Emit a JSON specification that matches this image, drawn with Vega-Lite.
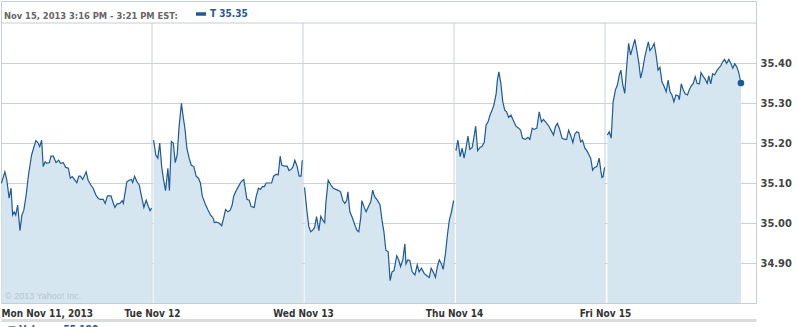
{
  "$schema": "https://vega.github.io/schema/vega-lite/v6.json",
  "width": 755,
  "height": 302,
  "autosize": {"type": "none"},
  "padding": {"left": 1, "top": 1, "right": 41, "bottom": 24},
  "background": "white",
  "config": {"view": {"stroke": "#c5ced7", "strokeWidth": 1}, "font": "DejaVu Sans Condensed"},
  "title": {"text": "Nov 15, 2013 3:16 PM - 3:21 PM EST:", "anchor": "start", "frame": "group", "orient": "top", "offset": -24, "baseline": "middle", "dx": 3, "font": "DejaVu Sans Condensed", "fontSize": 9.3, "fontWeight": "bold", "color": "#666666"},
  "datasets": {
    "price": [
      {"d":1,"t":1,"p":35.099},{"d":1,"t":10,"p":35.128},{"d":1,"t":15,"p":35.107},{"d":1,"t":21,"p":35.062},{"d":1,"t":26,"p":35.087},{"d":1,"t":30,"p":35.02},{"d":1,"t":34,"p":35.028},{"d":1,"t":38,"p":35.02},{"d":1,"t":43,"p":35.045},{"d":1,"t":49,"p":34.981},{"d":1,"t":54,"p":35.02},{"d":1,"t":59,"p":35.032},{"d":1,"t":65,"p":35.07},{"d":1,"t":71,"p":35.12},{"d":1,"t":79,"p":35.17},{"d":1,"t":90,"p":35.206},{"d":1,"t":95,"p":35.201},{"d":1,"t":100,"p":35.191},{"d":1,"t":105,"p":35.207},{"d":1,"t":109,"p":35.141},{"d":1,"t":114,"p":35.153},{"d":1,"t":118,"p":35.149},{"d":1,"t":125,"p":35.151},{"d":1,"t":129,"p":35.167},{"d":1,"t":135,"p":35.167},{"d":1,"t":142,"p":35.151},{"d":1,"t":149,"p":35.157},{"d":1,"t":154,"p":35.149},{"d":1,"t":161,"p":35.151},{"d":1,"t":167,"p":35.139},{"d":1,"t":174,"p":35.137},{"d":1,"t":179,"p":35.112},{"d":1,"t":184,"p":35.116},{"d":1,"t":196,"p":35.101},{"d":1,"t":201,"p":35.117},{"d":1,"t":205,"p":35.117},{"d":1,"t":211,"p":35.109},{"d":1,"t":220,"p":35.128},{"d":1,"t":225,"p":35.107},{"d":1,"t":232,"p":35.095},{"d":1,"t":238,"p":35.087},{"d":1,"t":245,"p":35.07},{"d":1,"t":251,"p":35.062},{"d":1,"t":256,"p":35.059},{"d":1,"t":264,"p":35.059},{"d":1,"t":269,"p":35.049},{"d":1,"t":275,"p":35.068},{"d":1,"t":284,"p":35.068},{"d":1,"t":289,"p":35.053},{"d":1,"t":294,"p":35.039},{"d":1,"t":300,"p":35.048},{"d":1,"t":307,"p":35.049},{"d":1,"t":313,"p":35.056},{"d":1,"t":316,"p":35.049},{"d":1,"t":325,"p":35.103},{"d":1,"t":331,"p":35.107},{"d":1,"t":337,"p":35.109},{"d":1,"t":340,"p":35.101},{"d":1,"t":345,"p":35.117},{"d":1,"t":351,"p":35.103},{"d":1,"t":357,"p":35.095},{"d":1,"t":363,"p":35.066},{"d":1,"t":369,"p":35.039},{"d":1,"t":375,"p":35.057},{"d":1,"t":380,"p":35.043},{"d":1,"t":385,"p":35.031},{"d":1,"t":389,"p":35.037},
      {"d":2,"t":394,"p":35.207},{"d":2,"t":400,"p":35.17},{"d":2,"t":405,"p":35.162},{"d":2,"t":410,"p":35.2},{"d":2,"t":415,"p":35.141},{"d":2,"t":420,"p":35.107},{"d":2,"t":425,"p":35.081},{"d":2,"t":431,"p":35.137},{"d":2,"t":435,"p":35.081},{"d":2,"t":440,"p":35.204},{"d":2,"t":445,"p":35.2},{"d":2,"t":450,"p":35.151},{"d":2,"t":455,"p":35.17},{"d":2,"t":460,"p":35.241},{"d":2,"t":466,"p":35.299},{"d":2,"t":471,"p":35.262},{"d":2,"t":475,"p":35.237},{"d":2,"t":480,"p":35.187},{"d":2,"t":486,"p":35.162},{"d":2,"t":491,"p":35.145},{"d":2,"t":498,"p":35.141},{"d":2,"t":504,"p":35.117},{"d":2,"t":510,"p":35.112},{"d":2,"t":515,"p":35.1},{"d":2,"t":520,"p":35.067},{"d":2,"t":527,"p":35.049},{"d":2,"t":534,"p":35.034},{"d":2,"t":541,"p":35.02},{"d":2,"t":548,"p":35.012},{"d":2,"t":551,"p":35.001},{"d":2,"t":556,"p":35.002},{"d":2,"t":563,"p":35.0},{"d":2,"t":570,"p":34.993},{"d":2,"t":575,"p":35.012},{"d":2,"t":580,"p":35.034},{"d":2,"t":586,"p":35.028},{"d":2,"t":592,"p":35.032},{"d":2,"t":597,"p":35.045},{"d":2,"t":601,"p":35.067},{"d":2,"t":606,"p":35.078},{"d":2,"t":613,"p":35.091},{"d":2,"t":620,"p":35.103},{"d":2,"t":627,"p":35.109},{"d":2,"t":630,"p":35.091},{"d":2,"t":635,"p":35.059},{"d":2,"t":641,"p":35.057},{"d":2,"t":646,"p":35.041},{"d":2,"t":654,"p":35.039},{"d":2,"t":659,"p":35.066},{"d":2,"t":665,"p":35.087},{"d":2,"t":670,"p":35.084},{"d":2,"t":675,"p":35.091},{"d":2,"t":680,"p":35.091},{"d":2,"t":685,"p":35.1},{"d":2,"t":692,"p":35.1},{"d":2,"t":699,"p":35.1},{"d":2,"t":704,"p":35.117},{"d":2,"t":711,"p":35.122},{"d":2,"t":716,"p":35.12},{"d":2,"t":721,"p":35.167},{"d":2,"t":725,"p":35.145},{"d":2,"t":732,"p":35.142},{"d":2,"t":739,"p":35.142},{"d":2,"t":744,"p":35.131},{"d":2,"t":749,"p":35.134},{"d":2,"t":754,"p":35.14},{"d":2,"t":759,"p":35.157},{"d":2,"t":765,"p":35.141},{"d":2,"t":770,"p":35.117},{"d":2,"t":775,"p":35.117},{"d":2,"t":778,"p":35.157},
      {"d":3,"t":784,"p":35.089},{"d":3,"t":790,"p":35.032},{"d":3,"t":795,"p":34.991},{"d":3,"t":800,"p":34.978},{"d":3,"t":805,"p":34.982},{"d":3,"t":810,"p":34.989},{"d":3,"t":815,"p":35.016},{"d":3,"t":821,"p":34.981},{"d":3,"t":826,"p":35.017},{"d":3,"t":831,"p":35.007},{"d":3,"t":836,"p":35.001},{"d":3,"t":839,"p":35.049},{"d":3,"t":845,"p":35.107},{"d":3,"t":852,"p":35.095},{"d":3,"t":858,"p":35.087},{"d":3,"t":865,"p":35.084},{"d":3,"t":872,"p":35.081},{"d":3,"t":877,"p":35.078},{"d":3,"t":883,"p":35.056},{"d":3,"t":888,"p":35.049},{"d":3,"t":893,"p":35.057},{"d":3,"t":896,"p":35.078},{"d":3,"t":901,"p":35.028},{"d":3,"t":908,"p":35.012},{"d":3,"t":914,"p":34.995},{"d":3,"t":919,"p":34.982},{"d":3,"t":924,"p":34.978},{"d":3,"t":929,"p":35.012},{"d":3,"t":932,"p":35.056},{"d":3,"t":938,"p":35.039},{"d":3,"t":943,"p":35.028},{"d":3,"t":948,"p":35.039},{"d":3,"t":955,"p":35.053},{"d":3,"t":960,"p":35.082},{"d":3,"t":965,"p":35.066},{"d":3,"t":972,"p":35.057},{"d":3,"t":979,"p":35.045},{"d":3,"t":984,"p":35.007},{"d":3,"t":989,"p":34.978},{"d":3,"t":994,"p":34.932},{"d":3,"t":1000,"p":34.928},{"d":3,"t":1005,"p":34.856},{"d":3,"t":1010,"p":34.878},{"d":3,"t":1015,"p":34.881},{"d":3,"t":1022,"p":34.918},{"d":3,"t":1027,"p":34.908},{"d":3,"t":1032,"p":34.891},{"d":3,"t":1038,"p":34.909},{"d":3,"t":1043,"p":34.948},{"d":3,"t":1046,"p":34.898},{"d":3,"t":1051,"p":34.908},{"d":3,"t":1056,"p":34.906},{"d":3,"t":1062,"p":34.878},{"d":3,"t":1069,"p":34.87},{"d":3,"t":1075,"p":34.895},{"d":3,"t":1080,"p":34.878},{"d":3,"t":1086,"p":34.887},{"d":3,"t":1093,"p":34.874},{"d":3,"t":1100,"p":34.868},{"d":3,"t":1106,"p":34.864},{"d":3,"t":1111,"p":34.887},{"d":3,"t":1117,"p":34.876},{"d":3,"t":1122,"p":34.864},{"d":3,"t":1127,"p":34.891},{"d":3,"t":1132,"p":34.908},{"d":3,"t":1137,"p":34.899},{"d":3,"t":1142,"p":34.884},{"d":3,"t":1148,"p":34.924},{"d":3,"t":1153,"p":34.97},{"d":3,"t":1158,"p":35.007},{"d":3,"t":1163,"p":35.026},{"d":3,"t":1166,"p":35.041},{"d":3,"t":1169,"p":35.056},
      {"d":4,"t":1175,"p":35.181},{"d":4,"t":1180,"p":35.207},{"d":4,"t":1186,"p":35.166},{"d":4,"t":1191,"p":35.187},{"d":4,"t":1196,"p":35.162},{"d":4,"t":1201,"p":35.187},{"d":4,"t":1206,"p":35.217},{"d":4,"t":1211,"p":35.184},{"d":4,"t":1217,"p":35.189},{"d":4,"t":1222,"p":35.217},{"d":4,"t":1226,"p":35.242},{"d":4,"t":1231,"p":35.181},{"d":4,"t":1237,"p":35.189},{"d":4,"t":1242,"p":35.191},{"d":4,"t":1248,"p":35.201},{"d":4,"t":1253,"p":35.245},{"d":4,"t":1258,"p":35.253},{"d":4,"t":1263,"p":35.27},{"d":4,"t":1268,"p":35.281},{"d":4,"t":1273,"p":35.295},{"d":4,"t":1279,"p":35.324},{"d":4,"t":1282,"p":35.357},{"d":4,"t":1286,"p":35.378},{"d":4,"t":1291,"p":35.349},{"d":4,"t":1296,"p":35.303},{"d":4,"t":1301,"p":35.282},{"d":4,"t":1306,"p":35.278},{"d":4,"t":1311,"p":35.264},{"d":4,"t":1317,"p":35.27},{"d":4,"t":1323,"p":35.257},{"d":4,"t":1330,"p":35.242},{"d":4,"t":1337,"p":35.237},{"d":4,"t":1342,"p":35.232},{"d":4,"t":1347,"p":35.212},{"d":4,"t":1354,"p":35.209},{"d":4,"t":1361,"p":35.214},{"d":4,"t":1366,"p":35.209},{"d":4,"t":1372,"p":35.237},{"d":4,"t":1377,"p":35.234},{"d":4,"t":1384,"p":35.237},{"d":4,"t":1390,"p":35.278},{"d":4,"t":1396,"p":35.253},{"d":4,"t":1401,"p":35.259},{"d":4,"t":1408,"p":35.251},{"d":4,"t":1415,"p":35.242},{"d":4,"t":1421,"p":35.231},{"d":4,"t":1427,"p":35.22},{"d":4,"t":1432,"p":35.241},{"d":4,"t":1437,"p":35.249},{"d":4,"t":1442,"p":35.237},{"d":4,"t":1449,"p":35.212},{"d":4,"t":1456,"p":35.209},{"d":4,"t":1461,"p":35.209},{"d":4,"t":1466,"p":35.232},{"d":4,"t":1471,"p":35.22},{"d":4,"t":1477,"p":35.201},{"d":4,"t":1482,"p":35.222},{"d":4,"t":1487,"p":35.228},{"d":4,"t":1492,"p":35.226},{"d":4,"t":1497,"p":35.203},{"d":4,"t":1502,"p":35.207},{"d":4,"t":1508,"p":35.187},{"d":4,"t":1513,"p":35.181},{"d":4,"t":1518,"p":35.172},{"d":4,"t":1523,"p":35.162},{"d":4,"t":1528,"p":35.132},{"d":4,"t":1533,"p":35.139},{"d":4,"t":1539,"p":35.141},{"d":4,"t":1545,"p":35.162},{"d":4,"t":1549,"p":35.132},{"d":4,"t":1552,"p":35.114},{"d":4,"t":1555,"p":35.116},{"d":4,"t":1559,"p":35.139},
      {"d":5,"t":1566,"p":35.22},{"d":5,"t":1571,"p":35.228},{"d":5,"t":1576,"p":35.212},{"d":5,"t":1581,"p":35.303},{"d":5,"t":1587,"p":35.333},{"d":5,"t":1592,"p":35.345},{"d":5,"t":1597,"p":35.37},{"d":5,"t":1601,"p":35.382},{"d":5,"t":1606,"p":35.345},{"d":5,"t":1611,"p":35.324},{"d":5,"t":1616,"p":35.391},{"d":5,"t":1621,"p":35.449},{"d":5,"t":1626,"p":35.42},{"d":5,"t":1632,"p":35.441},{"d":5,"t":1637,"p":35.459},{"d":5,"t":1642,"p":35.432},{"d":5,"t":1647,"p":35.403},{"d":5,"t":1652,"p":35.362},{"d":5,"t":1657,"p":35.382},{"d":5,"t":1663,"p":35.416},{"d":5,"t":1668,"p":35.437},{"d":5,"t":1672,"p":35.453},{"d":5,"t":1676,"p":35.431},{"d":5,"t":1681,"p":35.437},{"d":5,"t":1687,"p":35.449},{"d":5,"t":1692,"p":35.42},{"d":5,"t":1697,"p":35.382},{"d":5,"t":1702,"p":35.389},{"d":5,"t":1707,"p":35.353},{"d":5,"t":1712,"p":35.343},{"d":5,"t":1718,"p":35.328},{"d":5,"t":1723,"p":35.357},{"d":5,"t":1728,"p":35.328},{"d":5,"t":1733,"p":35.32},{"d":5,"t":1738,"p":35.303},{"d":5,"t":1743,"p":35.32},{"d":5,"t":1749,"p":35.318},{"d":5,"t":1752,"p":35.308},{"d":5,"t":1757,"p":35.348},{"d":5,"t":1762,"p":35.333},{"d":5,"t":1767,"p":35.323},{"d":5,"t":1773,"p":35.32},{"d":5,"t":1778,"p":35.334},{"d":5,"t":1783,"p":35.343},{"d":5,"t":1788,"p":35.349},{"d":5,"t":1793,"p":35.366},{"d":5,"t":1798,"p":35.349},{"d":5,"t":1804,"p":35.348},{"d":5,"t":1808,"p":35.376},{"d":5,"t":1814,"p":35.366},{"d":5,"t":1819,"p":35.359},{"d":5,"t":1824,"p":35.349},{"d":5,"t":1828,"p":35.368},{"d":5,"t":1833,"p":35.348},{"d":5,"t":1838,"p":35.373},{"d":5,"t":1843,"p":35.37},{"d":5,"t":1849,"p":35.381},{"d":5,"t":1854,"p":35.387},{"d":5,"t":1859,"p":35.393},{"d":5,"t":1864,"p":35.403},{"d":5,"t":1869,"p":35.409},{"d":5,"t":1874,"p":35.399},{"d":5,"t":1880,"p":35.409},{"d":5,"t":1885,"p":35.399},{"d":5,"t":1890,"p":35.387},{"d":5,"t":1895,"p":35.398},{"d":5,"t":1900,"p":35.391},{"d":5,"t":1905,"p":35.378},{"d":5,"t":1911,"p":35.35}
    ],
    "last": [{"t":1911,"p":35.35,"s":"T 35.35"}],
    "days": [{"b":390},{"b":780},{"b":1170},{"b":1560}],
    "note": [{"txt":"© 2013 Yahoo! Inc."}]
  },
  "layer": [
    {
      "data": {"name": "price"},
      "mark": {"type": "area", "color": "#d6e6f1", "opacity": 1},
      "encoding": {
        "x": {"field": "t", "type": "quantitative", "scale": {"domain": [0, 1950], "nice": false, "zero": false},
          "axis": {"values": [0, 390, 780, 1170, 1560],
            "labelExpr": "datum.value == 0 ? 'Mon Nov 11, 2013' : datum.value == 390 ? 'Tue Nov 12' : datum.value == 780 ? 'Wed Nov 13' : datum.value == 1170 ? 'Thu Nov 14' : 'Fri Nov 15'",
            "title": "■ Volume: 55,180", "grid": false, "ticks": false, "domain": true, "domainColor": "#dcdcdc", "domainWidth": 3, "offset": 17,
            "labelPadding": -7, "labelBaseline": "middle",
            "labelAlign": {"condition": {"test": "datum.value == 0", "value": "left"}, "value": "center"},
            "labelFont": "DejaVu Sans Condensed", "labelFontWeight": "bold", "labelFontSize": 10, "labelColor": "#333333",
            "labelFlush": false, "labelOverlap": false, "labelBound": false,
            "titleX": 6, "titleY": 4, "titleAnchor": "start", "titleAlign": "left", "titleBaseline": "top", "titleColor": "#1f5a94", "titleFontSize": 10, "titleFontWeight": "bold", "titleFont": "DejaVu Sans Condensed"}},
        "y": {"field": "p", "type": "quantitative", "scale": {"domain": [34.8, 35.555], "nice": false, "zero": false},
          "axis": {"orient": "right", "values": [34.9, 35.0, 35.1, 35.2, 35.3, 35.4], "format": ".2f", "title": null, "domain": false, "ticks": false,
            "labelPadding": 4, "labelFont": "DejaVu Sans Condensed", "labelFontSize": 11, "labelFontWeight": "bold", "labelColor": "#444444",
            "grid": true, "gridColor": "#c8d2dc", "gridWidth": 1}},
        "y2": {"datum": 34.8},
        "detail": {"field": "d"}
      }
    },
    {
      "data": {"name": "days"},
      "mark": {"type": "rule", "color": "#c8d2dc", "strokeWidth": 1},
      "encoding": {"x": {"field": "b", "type": "quantitative"}, "y": {"datum": 35.5}, "y2": {"datum": 34.8}}
    },
    {
      "data": {"values": [{}]},
      "mark": {"type": "rule", "color": "#c5ced7", "strokeWidth": 1},
      "encoding": {"y": {"datum": 35.5}}
    },
    {
      "data": {"name": "price"},
      "mark": {"type": "line", "color": "#1f5a94", "strokeWidth": 1.2},
      "encoding": {"x": {"field": "t", "type": "quantitative"}, "y": {"field": "p", "type": "quantitative"}, "detail": {"field": "d"}}
    },
    {
      "data": {"name": "last"},
      "mark": {"type": "point", "filled": true, "opacity": 1, "size": 45},
      "encoding": {"x": {"field": "t", "type": "quantitative"}, "y": {"field": "p", "type": "quantitative"},
        "color": {"field": "s", "type": "nominal", "scale": {"range": ["#1f5a94"]},
          "legend": {"orient": "none", "legendX": 195, "legendY": 8, "title": null, "symbolType": "M-1,-0.35H1V0.35H-1Z", "symbolSize": 100, "symbolStrokeWidth": 0,
            "labelFont": "DejaVu Sans Condensed", "labelFontSize": 10, "labelFontWeight": "bold", "labelColor": "#1f5a94", "labelOffset": 4, "padding": 0}}}
    },
    {
      "data": {"name": "note"},
      "mark": {"type": "text", "align": "left", "baseline": "middle", "dx": 4, "dy": -7, "fontSize": 9, "font": "Liberation Sans", "color": "#b8c4ce"},
      "encoding": {"x": {"datum": 0}, "y": {"datum": 34.8}, "text": {"field": "txt"}}
    }
  ]
}
